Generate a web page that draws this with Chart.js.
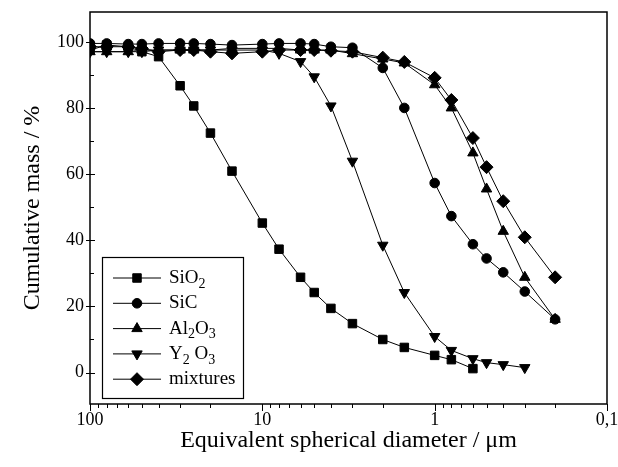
<!DOCTYPE html>
<html>
<head>
<meta charset="utf-8">
<script src="https://cdn.jsdelivr.net/npm/chart.js@4/dist/chart.umd.min.js"></script>
<style>
  html, body { margin: 0; padding: 0; background: #fff; }
  #wrap { width: 618px; height: 467px; }
</style>
</head>
<body>
<div id="wrap"><canvas id="grafico" width="618" height="467"></canvas></div>
<script>
// Dados (diâmetro em µm, massa cumulativa em %)
const tamanhosSiO2 = [100, 80, 60, 50, 40, 30, 25, 20, 15, 10, 8, 6, 5, 4, 3, 2, 1.5, 1, 0.8, 0.6];
const valoresSiO2 = [97.5, 99, 98.5, 97, 95.5, 86.7, 80.6, 72.4, 60.9, 45.2, 37.3, 28.8, 24.2, 19.4, 14.8, 10.0, 7.6, 5.2, 3.9, 1.2];

const tamanhosSiC = [100, 80, 60, 50, 40, 30, 25, 20, 15, 10, 8, 6, 5, 4, 3, 2, 1.5, 1, 0.8, 0.6, 0.5, 0.4, 0.3, 0.2];
const valoresSiC = [99.5, 99.5, 99.3, 99.3, 99.5, 99.5, 99.5, 99.3, 99, 99.3, 99.5, 99.5, 99.3, 98.5, 98.2, 92.1, 80.0, 57.3, 47.3, 38.8, 34.5, 30.3, 24.5, 16.1];

const tamanhosAl2O3 = [100, 80, 60, 50, 40, 30, 25, 20, 15, 10, 8, 6, 5, 4, 3, 2, 1.5, 1, 0.8, 0.6, 0.5, 0.4, 0.3, 0.2];
const valoresAl2O3 = [97, 97, 97, 97.5, 97.5, 97.5, 97.5, 97.5, 98, 98, 98, 97.5, 97.5, 97.5, 96.4, 94.8, 93.6, 87.0, 80.0, 66.4, 55.5, 42.7, 28.8, 16.1];

const tamanhosY2O3 = [100, 80, 60, 50, 40, 30, 25, 20, 15, 10, 8, 6, 5, 4, 3, 2, 1.5, 1, 0.8, 0.6, 0.5, 0.4, 0.3];
const valoresY2O3 = [97, 97, 97, 97, 97.5, 97.5, 97.5, 97.5, 97.5, 97.5, 96.5, 94, 89.4, 80.6, 63.9, 38.5, 24.2, 10.9, 6.7, 4.2, 3.0, 2.4, 1.5];

const tamanhosMisturas = [100, 80, 60, 50, 40, 30, 25, 20, 15, 10, 8, 6, 5, 4, 3, 2, 1.5, 1, 0.8, 0.6, 0.5, 0.4, 0.3, 0.2];
const valoresMisturas = [98.5, 98.5, 98.5, 98, 97, 97.5, 97.5, 97, 96.5, 97, 97.5, 97.5, 97.5, 97.3, 97, 95.2, 93.9, 89.1, 82.4, 70.9, 62.1, 51.8, 40.9, 28.8];

const rotulosSeries = ['SiO2', 'SiC', 'Al2O3', 'Y2 O3', 'mixtures'];
const ticksX = [100, 10, 1, 0.1];
const rotulosTicksX = ['100', '10', '1', '0,1'];
const ticksY = [0, 20, 40, 60, 80, 100];

const fonte = '"Liberation Serif", "Times New Roman", serif';

function pontos(tamanhos, valores) {
    return tamanhos.map((t, i) => ({ x: t, y: valores[i] }));
}

function serie(label, dados, estilo, raio, rotacao) {
    return {
        label: label,
        data: dados,
        borderColor: '#000',
        borderWidth: 1,
        backgroundColor: '#000',
        pointStyle: estilo,
        pointRadius: raio,
        pointRotation: rotacao || 0,
        pointBorderWidth: 1,
        pointBackgroundColor: '#000',
        pointBorderColor: '#000',
        tension: 0,
        showLine: true
    };
}

// Plugin: moldura, marcas dos eixos e legenda com subscritos
const pluginMoldura = {
    id: 'moldura',
    afterDraw(chart) {
        const ctx = chart.ctx;
        const a = chart.chartArea;
        const sx = chart.scales.x;
        const sy = chart.scales.y;
        ctx.save();
        ctx.strokeStyle = '#000';
        ctx.lineWidth = 1.5;
        ctx.strokeRect(a.left, a.top, a.right - a.left, a.bottom - a.top);

        ctx.lineWidth = 1;
        ctx.beginPath();
        // marcas do eixo x (para fora)
        [0.1, 1, 10].forEach(d => {
            for (let m = 2; m <= 9; m++) {
                const px = Math.round(sx.getPixelForValue(d * m)) + 0.5;
                ctx.moveTo(px, a.bottom);
                ctx.lineTo(px, a.bottom + 4);
            }
        });
        ticksX.forEach(v => {
            const px = Math.round(sx.getPixelForValue(v)) + 0.5;
            ctx.moveTo(px, a.bottom);
            ctx.lineTo(px, a.bottom + 7);
        });
        // marcas do eixo y
        ticksY.forEach(v => {
            const py = Math.round(sy.getPixelForValue(v)) + 0.5;
            ctx.moveTo(a.left - 4, py);
            ctx.lineTo(a.left + 5, py);
        });
        [10, 30, 50, 70, 90].forEach(v => {
            const py = Math.round(sy.getPixelForValue(v)) + 0.5;
            ctx.moveTo(a.left, py);
            ctx.lineTo(a.left + 4, py);
        });
        ctx.stroke();

        // legenda
        const bx = a.left + 12, by = a.bottom - 147, bw = 141, bh = 141;
        ctx.fillStyle = '#fff';
        ctx.fillRect(bx, by, bw, bh);
        ctx.lineWidth = 1.2;
        ctx.strokeRect(bx + 0.5, by + 0.5, bw, bh);
        chart.data.datasets.forEach((ds, i) => {
            const y = by + 21 + i * 25.3;
            ctx.beginPath();
            ctx.lineWidth = 1;
            ctx.moveTo(bx + 11, y);
            ctx.lineTo(bx + 59, y);
            ctx.stroke();
            ctx.fillStyle = '#000';
            Chart.helpers.drawPoint(ctx, {
                pointStyle: ds.pointStyle,
                radius: ds.pointRadius,
                rotation: ds.pointRotation,
                borderWidth: 1
            }, bx + 35, y);
            // texto com subscritos
            let tx = bx + 67;
            ctx.textBaseline = 'middle';
            ctx.textAlign = 'left';
            const partes = ds.label.match(/[0-9]+|[^0-9]+/g);
            partes.forEach(p => {
                if (/^[0-9]+$/.test(p)) {
                    ctx.font = '14px ' + fonte;
                    ctx.fillText(p, tx, y + 6);
                } else {
                    ctx.font = '19px ' + fonte;
                    ctx.fillText(p, tx, y);
                }
                tx += ctx.measureText(p).width;
            });
        });
        ctx.restore();
    }
};

const ctx = document.getElementById('grafico').getContext('2d');
new Chart(ctx, {
    type: 'line',
    data: {
        datasets: [
            serie(rotulosSeries[0], pontos(tamanhosSiO2, valoresSiO2), 'rect', 6),
            serie(rotulosSeries[1], pontos(tamanhosSiC, valoresSiC), 'circle', 4.8),
            serie(rotulosSeries[2], pontos(tamanhosAl2O3, valoresAl2O3), 'triangle', 6),
            serie(rotulosSeries[3], pontos(tamanhosY2O3, valoresY2O3), 'triangle', 6, 180),
            serie(rotulosSeries[4], pontos(tamanhosMisturas, valoresMisturas), 'rectRot', 6.5)
        ]
    },
    options: {
        responsive: false,
        animation: false,
        layout: { padding: { top: 12, right: 11, left: 0, bottom: 0 } },
        plugins: {
            legend: { display: false },
            tooltip: { enabled: false }
        },
        scales: {
            x: {
                type: 'logarithmic',
                reverse: true,
                min: 0.1,
                max: 100,
                grid: { display: false },
                border: { display: false },
                afterBuildTicks: s => { s.ticks = ticksX.map(v => ({ value: v })); },
                afterFit: s => { s.height = 63; s.paddingLeft = 0; s.paddingRight = 0; },
                ticks: {
                    color: '#000',
                    font: { family: fonte, size: 18 },
                    padding: -3,
                    maxRotation: 0,
                    autoSkip: false,
                    callback: v => rotulosTicksX[ticksX.indexOf(v)]
                },
                title: {
                    display: true,
                    text: 'Equivalent spherical diameter / μm',
                    color: '#000',
                    font: { family: fonte, size: 24 },
                    padding: { top: 0, bottom: 12 }
                }
            },
            y: {
                min: -9.5,
                max: 109,
                grid: { display: false },
                border: { display: false },
                afterBuildTicks: s => { s.ticks = ticksY.map(v => ({ value: v })); },
                afterFit: s => { s.width = 90; },
                ticks: {
                    color: '#000',
                    font: { family: fonte, size: 18 },
                    padding: -2
                },
                title: {
                    display: true,
                    text: 'Cumulative mass / %',
                    color: '#000',
                    font: { family: fonte, size: 24 },
                    padding: { top: 18, bottom: 0 }
                }
            }
        }
    },
    plugins: [pluginMoldura]
});
</script>
</body>
</html>
